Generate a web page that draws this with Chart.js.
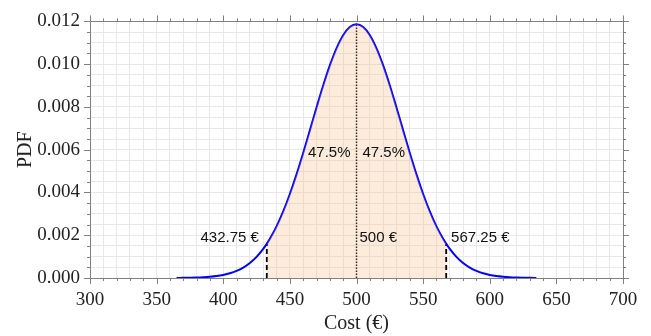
<!DOCTYPE html>
<html>
<head>
<meta charset="utf-8">
<script src="https://cdn.jsdelivr.net/npm/chart.js@4"></script>
<style>
  html, body { margin: 0; padding: 0; background: #fff; }
  #wrap { width: 651px; height: 336px; }
</style>
</head>
<body>
<div id="wrap"><canvas id="chart"></canvas></div>
<script>
// curve (cost in €, density)
const costs = [365, 370, 375, 380, 385, 390, 395, 400, 405, 410, 415, 420, 425, 430, 432.75,
  435, 440, 445, 450, 455, 460, 465, 470, 475, 480, 485, 490, 495, 500,
  505, 510, 515, 520, 525, 530, 535, 540, 545, 550, 555, 560, 565, 567.25,
  570, 575, 580, 585, 590, 595, 600, 605, 610, 615, 620, 625, 630, 635];
const pdfValues = [0.0000038, 0.0000067, 0.0000119, 0.0000204, 0.0000342, 0.0000563, 0.0000906,
  0.000142, 0.000219, 0.000330, 0.000486, 0.000700, 0.000986, 0.001359, 0.001606,
  0.001832, 0.002415, 0.003114, 0.003928, 0.004845, 0.005847, 0.006903, 0.007969,
  0.009000, 0.009941, 0.010741, 0.011352, 0.011734, 0.011865,
  0.011734, 0.011352, 0.010741, 0.009941, 0.009000, 0.007969, 0.006903, 0.005847,
  0.004845, 0.003928, 0.003114, 0.002415, 0.001832, 0.001606,
  0.001359, 0.000986, 0.000700, 0.000486, 0.000330, 0.000219, 0.000142, 0.0000906,
  0.0000563, 0.0000342, 0.0000204, 0.0000119, 0.0000067, 0.0000038];

// interval bounds and mean
const lowCost = 432.75;
const meanCost = 500;
const highCost = 567.25;
const lowPdf = 0.001606;
const meanPdf = 0.011865;
const highPdf = 0.001606;

const markerLabels = ['432.75 €', '500 €', '567.25 €'];
const shareLabels = ['47.5%', '47.5%'];
const shareLevel = 0.00585;
const priceLevel = 0.00187;

const curve = costs.map((c, i) => ({ x: c, y: pdfValues[i] }));
const shaded = curve.filter(p => p.x >= lowCost && p.x <= highCost);

const serif = '"Liberation Serif", "Times New Roman", serif';
const sans = '"Liberation Sans", Arial, sans-serif';

const isMajorX = v => Math.round(v) % 50 === 0;
const isMajorY = v => Math.round(v / 0.0005) % 4 === 0;

// frame, outward ticks and text labels
const framePlugin = {
  id: 'frame',
  afterDatasetsDraw(chart) {
    const { ctx, chartArea: a, scales } = chart;
    const xs = scales.x, ys = scales.y;
    ctx.save();
    ctx.strokeStyle = '#808080';
    ctx.lineWidth = 1;
    ctx.beginPath();
    ctx.rect(Math.round(a.left) + 0.5, Math.round(a.top) + 0.5,
      Math.round(a.right - a.left), Math.round(a.bottom - a.top));
    ctx.stroke();
    ctx.beginPath();
    xs.ticks.forEach(t => {
      const px = Math.round(xs.getPixelForValue(t.value)) + 0.5;
      const len = isMajorX(t.value) ? 6 : 3;
      ctx.moveTo(px, a.bottom); ctx.lineTo(px, a.bottom + len);
      ctx.moveTo(px, a.top); ctx.lineTo(px, a.top - len);
    });
    ys.ticks.forEach(t => {
      const py = Math.round(ys.getPixelForValue(t.value)) + 0.5;
      const len = isMajorY(t.value) ? 6 : 3;
      ctx.moveTo(a.left, py); ctx.lineTo(a.left - len, py);
      ctx.moveTo(a.right, py); ctx.lineTo(a.right + len, py);
    });
    ctx.stroke();

    ctx.fillStyle = '#111';
    ctx.font = '15px ' + sans;
    ctx.textBaseline = 'middle';
    const cx = xs.getPixelForValue(meanCost);
    ctx.textAlign = 'right';
    ctx.fillText(shareLabels[0], cx - 6, ys.getPixelForValue(shareLevel));
    ctx.fillText(markerLabels[0], xs.getPixelForValue(lowCost) - 8, ys.getPixelForValue(priceLevel));
    ctx.textAlign = 'left';
    ctx.fillText(shareLabels[1], cx + 6, ys.getPixelForValue(shareLevel));
    ctx.fillText(markerLabels[1], cx + 3, ys.getPixelForValue(priceLevel));
    ctx.fillText(markerLabels[2], xs.getPixelForValue(highCost) + 5, ys.getPixelForValue(priceLevel));
    ctx.restore();
  }
};

new Chart(document.getElementById('chart'), {
  type: 'scatter',
  data: {
    datasets: [
      {
        data: shaded,
        showLine: true,
        fill: 'origin',
        backgroundColor: 'rgba(248, 180, 110, 0.25)',
        borderWidth: 0,
        pointRadius: 0,
        cubicInterpolationMode: 'monotone'
      },
      {
        data: curve,
        showLine: true,
        fill: false,
        borderColor: '#0000ff',
        borderWidth: 2,
        pointRadius: 0,
        cubicInterpolationMode: 'monotone'
      },
      {
        data: [{ x: lowCost, y: 0 }, { x: lowCost, y: lowPdf }],
        showLine: true,
        borderColor: '#000',
        borderWidth: 2,
        borderDash: [5, 3],
        pointRadius: 0
      },
      {
        data: [{ x: highCost, y: 0 }, { x: highCost, y: highPdf }],
        showLine: true,
        borderColor: '#000',
        borderWidth: 2,
        borderDash: [5, 3],
        pointRadius: 0
      },
      {
        data: [{ x: meanCost, y: 0 }, { x: meanCost, y: meanPdf }],
        showLine: true,
        borderColor: '#000',
        borderWidth: 1.5,
        borderDash: [1.5, 1.5],
        pointRadius: 0
      }
    ]
  },
  options: {
    responsive: true,
    maintainAspectRatio: false,
    animation: false,
    layout: { padding: { top: 15, right: 28, left: 0, bottom: 0 } },
    plugins: { legend: { display: false }, tooltip: { enabled: false } },
    scales: {
      x: {
        type: 'linear',
        min: 300,
        max: 700,
        afterFit: s => { s.height = 58; },
        border: { display: false },
        grid: {
          drawTicks: false,
          color: '#e8e8e8',
          lineWidth: 1
        },
        ticks: {
          stepSize: 10,
          autoSkip: false,
          maxRotation: 0,
          padding: 11,
          color: '#222',
          font: { family: serif, size: 19 },
          callback: v => isMajorX(v) ? String(v) : ''
        },
        title: {
          display: true,
          text: 'Cost (€)',
          color: '#222',
          font: { family: serif, size: 20 },
          padding: { top: 0, bottom: 0 }
        }
      },
      y: {
        type: 'linear',
        min: 0,
        max: 0.012,
        afterFit: s => { s.width = 90; },
        border: { display: false },
        grid: {
          drawTicks: false,
          color: '#e8e8e8',
          lineWidth: 1
        },
        ticks: {
          stepSize: 0.0005,
          autoSkip: false,
          padding: 10,
          color: '#222',
          font: { family: serif, size: 19 },
          callback: v => isMajorY(v) ? v.toFixed(3) : ''
        },
        title: {
          display: true,
          text: 'PDF',
          color: '#222',
          font: { family: serif, size: 20 },
          padding: { top: 14, bottom: 0 }
        }
      }
    }
  },
  plugins: [framePlugin]
});
</script>
</body>
</html>
